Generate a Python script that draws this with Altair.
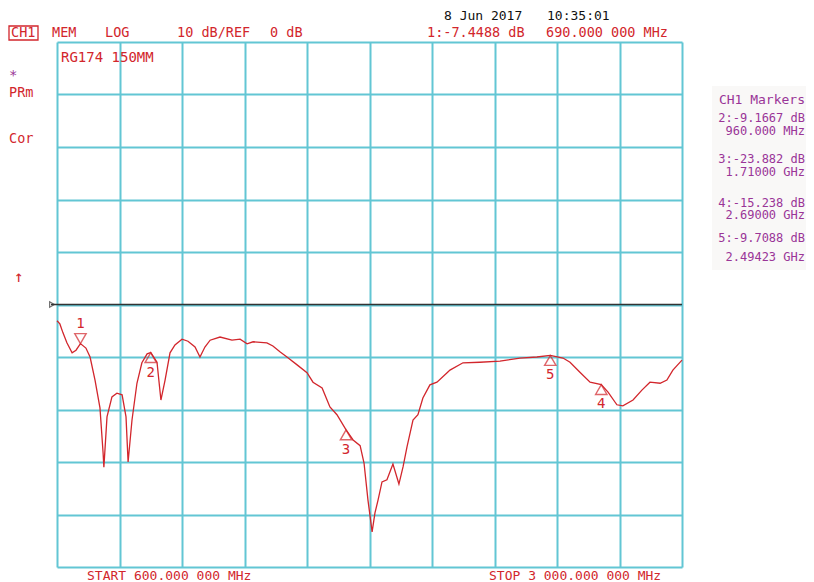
import altair as alt
import pandas as pd

# ---- trace data (frequency in MHz, level in dB) ----
freq_mhz = [600, 611, 623, 638, 658, 673, 690, 711, 727, 746, 765, 777, 780, 792, 811, 830,
            850, 865, 873, 888, 907, 926, 946, 960, 984, 999, 1015, 1034, 1053, 1080, 1103,
            1130, 1149, 1168, 1188, 1226, 1272, 1303, 1330, 1353, 1406, 1429, 1456, 1483,
            1522, 1560, 1583, 1618, 1648, 1675, 1710, 1737, 1764, 1779, 1794, 1810, 1821,
            1833, 1848, 1867, 1890, 1913, 1929, 1944, 1967, 1986, 2005, 2032, 2059, 2098,
            2109, 2159, 2224, 2301, 2378, 2443, 2494.23, 2543, 2570, 2608, 2647, 2690, 2716,
            2750, 2773, 2812, 2846, 2877, 2916, 2942, 2965, 3000]
level_db = [-3.1, -3.7, -5.4, -7.3, -9.2, -8.7, -7.4488, -8.3, -10.0, -14.4, -19.7, -28.3,
            -31.0, -21.4, -17.6, -16.9, -17.2, -21.4, -30.0, -22.0, -15.0, -11.1, -9.4,
            -9.1667, -11.0, -18.2, -14.4, -9.2, -7.7, -6.6, -7.0, -8.1, -10.0, -8.1, -6.8,
            -6.2, -6.8, -6.6, -7.5, -7.1, -7.3, -7.9, -9.0, -10.0, -11.5, -13.0, -14.8,
            -15.9, -19.5, -21.0, -23.882, -25.8, -26.9, -30.2, -37.2, -43.3, -39.7, -37.2,
            -33.8, -33.4, -30.4, -34.2, -30.9, -27.1, -22.0, -21.0, -17.8, -15.3, -14.8,
            -13.0, -12.5, -11.1, -11.0, -10.8, -10.2, -10.0, -9.7088, -10.2, -11.0, -12.9,
            -14.8, -15.238, -16.7, -19.1, -19.3, -18.2, -16.3, -14.8, -15.0, -14.4, -12.5,
            -10.6]

# ---- markers ----
marker_num = ["1", "2", "3", "4", "5"]
marker_freq = [690, 960, 1710, 2690, 2494.23]
marker_db = [-7.4488, -9.1667, -23.882, -15.238, -9.7088]

# ---- grid ----
x_ticks = [600 + 240 * i for i in range(11)]
y_ticks = [-50 + 10 * i for i in range(11)]

# ---- texts ----
header_texts = ["CH1", "MEM", "LOG", "10 dB/REF", "0 dB", "1:-7.4488 dB", "690.000 000 MHz"]
date_texts = ["8 Jun 2017", "10:35:01"]
side_texts = ["PRm", "Cor", "↑"]
title_text = "RG174 150MM"
panel_texts = ["CH1 Markers", "2:-9.1667 dB", "960.000 MHz", "3:-23.882 dB", "1.71000 GHz",
               "4:-15.238 dB", "2.69000 GHz", "5:-9.7088 dB", "2.49423 GHz"]
footer_texts = ["START 600.000 000 MHz", "STOP 3 000.000 000 MHz"]

RED = "#d2262c"
PURPLE = "#9a3597"
CYAN = "#62c6d4"
FONT = "DejaVu Sans Mono"
OX, OY = 57, 42  # plot origin on page

trace = pd.DataFrame({"f": freq_mhz, "db": level_db})
mk = pd.DataFrame({"f": marker_freq, "db": marker_db, "n": marker_num})
dummy = pd.DataFrame({"a": [0]})

xs = alt.Scale(domain=[600, 3000], nice=False, zero=False)
ys = alt.Scale(domain=[-50, 50], nice=False, zero=False)

def gaxis(vals):
    return alt.Axis(values=vals, grid=True, labels=False, ticks=False, domain=False,
                    gridColor=CYAN, gridWidth=2, gridOpacity=1)

base_grid = alt.Chart(trace).mark_line(opacity=0).encode(
    x=alt.X("f:Q", scale=xs, axis=gaxis(x_ticks), title=""),
    y=alt.Y("db:Q", scale=ys, axis=gaxis(y_ticks), title=""),
)

ref_line = alt.Chart(dummy).mark_rule(color="#333333", strokeWidth=1.5).encode(
    y=alt.datum(0), x=alt.value(-6), x2=alt.value(625)
)
ref_tick = alt.Chart(dummy).mark_point(shape="triangle-right", filled=False, color="#333333",
                                       size=30, strokeWidth=1.2).encode(
    y=alt.datum(0), x=alt.value(-5)
)

line = alt.Chart(trace).mark_line(color=RED, strokeWidth=1.3).encode(
    x=alt.X("f:Q", scale=xs), y=alt.Y("db:Q", scale=ys)
)

m1 = mk[mk["n"] == "1"]
mo = mk[mk["n"] != "1"]
tri_down = alt.Chart(m1).mark_point(shape="triangle-down", filled=False, color=RED, size=130,
                                    strokeWidth=1.4, yOffset=-5).encode(
    x=alt.X("f:Q", scale=xs), y=alt.Y("db:Q", scale=ys))
tri_up = alt.Chart(mo).mark_point(shape="triangle-up", filled=False, color=RED, size=130,
                                  strokeWidth=1.4, yOffset=5).encode(
    x=alt.X("f:Q", scale=xs), y=alt.Y("db:Q", scale=ys))
num_down = alt.Chart(m1).mark_text(color=RED, font=FONT, fontSize=14, dy=-20).encode(
    x=alt.X("f:Q", scale=xs), y=alt.Y("db:Q", scale=ys), text="n:N")
num_up = alt.Chart(mo).mark_text(color=RED, font=FONT, fontSize=14, dy=20).encode(
    x=alt.X("f:Q", scale=xs), y=alt.Y("db:Q", scale=ys), text="n:N")


def label(txt, ax, ay, color, align="left", size=13.5):
    return alt.Chart(dummy).mark_text(text=txt, align=align, baseline="middle", font=FONT,
                                      fontSize=size, color=color).encode(
        x=alt.value(ax - OX), y=alt.value(ay - OY))


texts = []
hx = [11, 52, 105, 177, 270, 427, 546]
for t, x in zip(header_texts, hx):
    texts.append(label(t, x, 33, RED))
texts.append(label(date_texts[0], 444, 16, "#111111", size=13))
texts.append(label(date_texts[1], 547, 16, "#111111", size=13))
texts.append(label(title_text, 61, 58, RED, size=14))
texts.append(label("*", 9, 76, PURPLE, size=14))
texts.append(label(side_texts[0], 9, 93, RED))
texts.append(label(side_texts[1], 9, 139, RED))
texts.append(label(side_texts[2], 14, 277, RED, size=16))
py = [100, 118, 131, 159, 172, 203, 215, 238, 257]
psz = [13, 12, 12, 12, 12, 12, 12, 12, 12]
for t, y, s in zip(panel_texts, py, psz):
    texts.append(label(t, 805, y, PURPLE, align="right", size=s))
texts.append(label(footer_texts[0], 87, 576, RED, size=13))
texts.append(label(footer_texts[1], 489, 576, RED, size=13))

ch1_box = alt.Chart(dummy).mark_rect(filled=False, stroke=RED, strokeWidth=1.3).encode(
    x=alt.value(9 - OX), x2=alt.value(38 - OX), y=alt.value(26 - OY), y2=alt.value(40 - OY))
panel_bg = alt.Chart(dummy).mark_rect(color="#f9f8f7").encode(
    x=alt.value(712 - OX), x2=alt.value(806 - OX), y=alt.value(86 - OY), y2=alt.value(270 - OY))

chart = alt.layer(
    panel_bg, base_grid, ref_line, ref_tick, line, tri_down, tri_up, num_down, num_up,
    ch1_box, *texts
).properties(
    width=625, height=525,
    autosize=alt.AutoSizeParams(type="none"),
    padding={"left": 49, "top": 34, "right": 124, "bottom": 15},
).configure_view(stroke=None)

chart.save("out.html", embed_options={"renderer": "svg", "actions": False})
